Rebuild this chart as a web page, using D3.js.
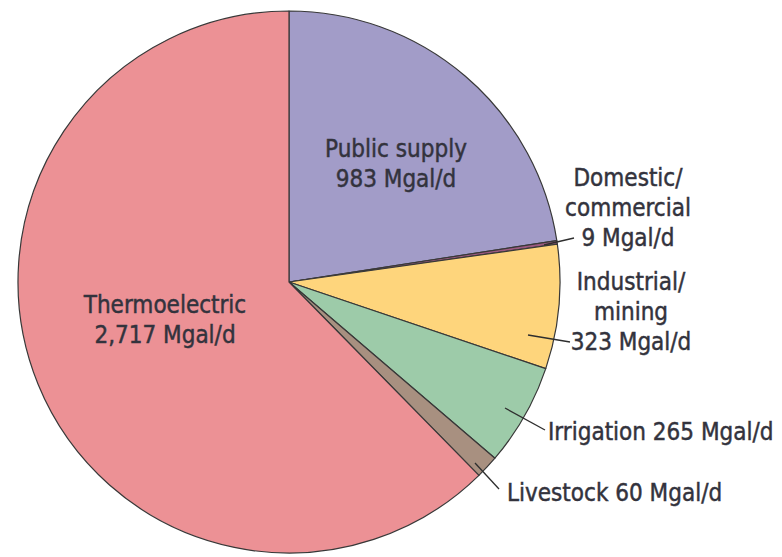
<!DOCTYPE html>
<html><head><meta charset="utf-8">
<script src="https://cdn.jsdelivr.net/npm/d3@7"></script>
<style>
html,body{margin:0;padding:0;background:#fff;}
svg{display:block;}
text{font-family:"Liberation Sans Narrow","DejaVu Sans Condensed","Arial Narrow",sans-serif;fill:#33333d;stroke:#33333d;stroke-width:0.45px;}
</style></head>
<body>
<svg id="chart" width="782" height="557"></svg>
<script>
// Data
const categories = ["Public supply", "Domestic/commercial", "Industrial/mining", "Irrigation", "Livestock", "Thermoelectric"];
const values = [983, 9, 323, 265, 60, 2717];
const valueLabels = ["983 Mgal/d", "9 Mgal/d", "323 Mgal/d", "265 Mgal/d", "60 Mgal/d", "2,717 Mgal/d"];
const colors = ["#a29cc8", "#9c5a80", "#fed57c", "#9dcba9", "#a89080", "#ec9195"];

// Layout of annotations (text lines, anchor, position; leader lines)
const labelLayout = [
  {lines: ["Public supply", "983 Mgal/d"], x: 396, y: 157, anchor: "middle"},
  {lines: ["Domestic/", "commercial", "9 Mgal/d"], x: 628, y: 186, anchor: "middle", leader: [[544, 245], [574, 238]]},
  {lines: ["Industrial/", "mining", "323 Mgal/d"], x: 631, y: 290, anchor: "middle", leader: [[528, 335], [570, 342]]},
  {lines: ["Irrigation 265 Mgal/d"], x: 548, y: 440, anchor: "start", leader: [[505, 408], [545, 430]]},
  {lines: ["Livestock 60 Mgal/d"], x: 507, y: 501, anchor: "start", leader: [[475, 463], [499, 489]]},
  {lines: ["Thermoelectric", "2,717 Mgal/d"], x: 165, y: 313, anchor: "middle"}
];

const cx = 289, cy = 282, R = 271;
const svg = d3.select("#chart");
const g = svg.append("g").attr("transform", `translate(${cx},${cy})`);

const data = categories.map((c, i) => ({cat: c, value: values[i], color: colors[i]}));
const pie = d3.pie().sort(null).value(d => d.value);
const arc = d3.arc().innerRadius(0).outerRadius(R);

g.selectAll("path.slice").data(pie(data)).join("path")
  .attr("class", "slice")
  .attr("d", arc)
  .attr("fill", d => d.data.color)
  .attr("stroke", "#383838")
  .attr("stroke-width", 1.2)
  .attr("stroke-linejoin", "round");

const lineGen = d3.line();
labelLayout.forEach(l => {
  if (l.leader) {
    svg.append("path").attr("d", lineGen(l.leader))
      .attr("stroke", "#2e2e2e").attr("stroke-width", 1.3).attr("fill", "none");
  }
  const t = svg.append("text").attr("text-anchor", l.anchor).attr("font-size", 24);
  l.lines.forEach((s, i) => {
    t.append("tspan").attr("x", l.x).attr("y", l.y + i * 30).text(s);
  });
});
</script>
</body></html>
